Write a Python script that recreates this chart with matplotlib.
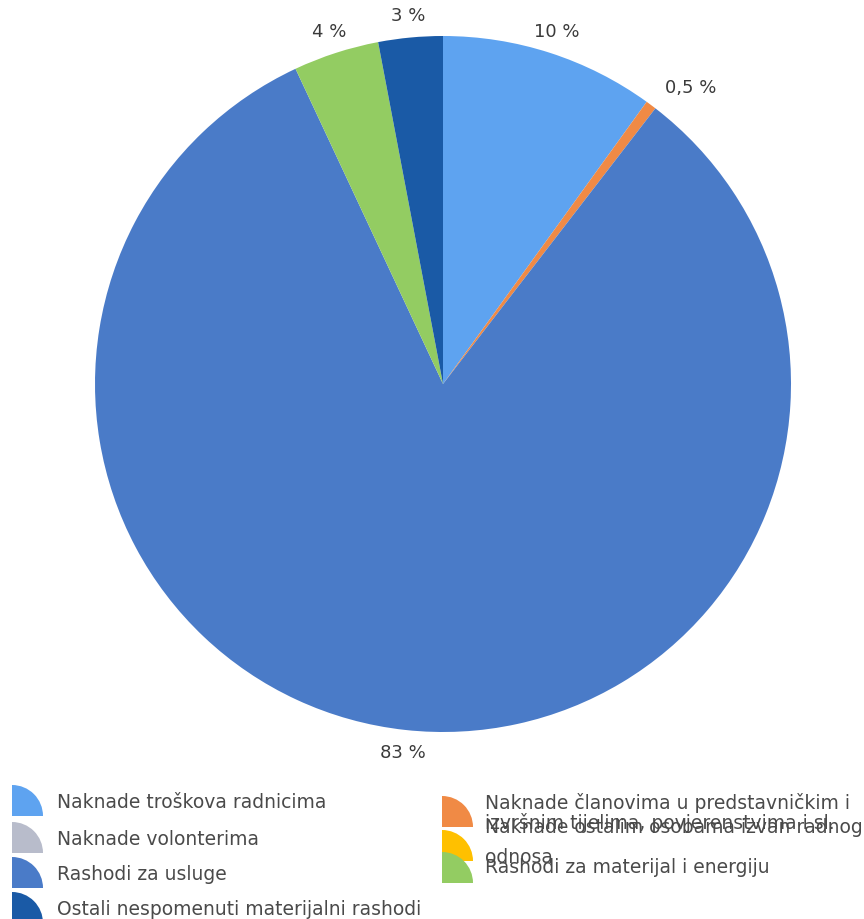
import matplotlib
matplotlib.use('Agg')
import matplotlib.pyplot as plt
from matplotlib.patches import Wedge

# expense categories, in drawing order (clockwise from 12 o'clock)
categories = ['Naknade troškova radnicima',
              'Naknade članovima u predstavničkim i\nizvršnim tijelima, povjerenstvima i sl.',
              'Naknade volonterima',
              'Naknade ostalim osobama izvan radnog\nodnosa',
              'Rashodi za usluge',
              'Rashodi za materijal i energiju',
              'Ostali nespomenuti materijalni rashodi']
shares = [10, 0.5, 0, 0, 83, 4, 3]
share_labels = ['10 %', '0,5 %', '', '', '83 %', '4 %', '3 %']
colors = ['#5ea3f0', '#f08a45', '#b8bccb', '#ffc000', '#4a7bc8', '#93cc62', '#1a5aa6']

W, H = 864, 920
fig = plt.figure(figsize=(W / 100, H / 100), dpi=100)

# pie: centre (443, 385) px, radius 348 px
cx, cy, r = 443, 385, 348
ax = fig.add_axes([(cx - r) / W, (H - cy - r) / H, 2 * r / W, 2 * r / H])
wedges, texts = ax.pie(shares, labels=share_labels, colors=colors, startangle=90,
                       counterclock=False, labeldistance=1.065,
                       textprops=dict(fontsize=13, color='#3a3a3a', va='center'),
                       wedgeprops=dict(linewidth=0))
for t in texts:
    t.set_ha('center')
texts[1].set_ha('left')
ax.set_xlim(-1, 1)
ax.set_ylim(-1, 1)
ax.set_aspect('equal')
ax.axis('off')

# legend drawn in pixel coordinates (y grows downwards)
lax = fig.add_axes([0, 0, 1, 1])
lax.set_xlim(0, W)
lax.set_ylim(H, 0)
lax.axis('off')
lax.set_zorder(-1)


def swatch(x, y_bottom, color):
    # quarter-circle swatch, corner at the lower left, rounded to the upper right
    lax.add_patch(Wedge((x, y_bottom), 31, -90, 0, facecolor=color, edgecolor='none'))


def line(x, y, text):
    lax.text(x, y, text, fontsize=13.5, color='#4a4a4a', va='center', ha='left')


# left column
for i, y in [(0, 803), (2, 840), (4, 875), (6, 910)]:
    swatch(12, y + 14, colors[i])
    line(57, y, categories[i])

# right column (wrapped entries, lines placed one by one)
swatch(442, 828, colors[1])
for txt, y in zip(categories[1].split('\n'), [803, 823]):
    line(485, y, txt)
swatch(442, 862, colors[3])
for txt, y in zip(categories[3].split('\n'), [828, 858]):
    line(485, y, txt)
swatch(442, 884, colors[5])
line(485, 868, categories[5])

fig.savefig('out.png', dpi=100, facecolor='white')
